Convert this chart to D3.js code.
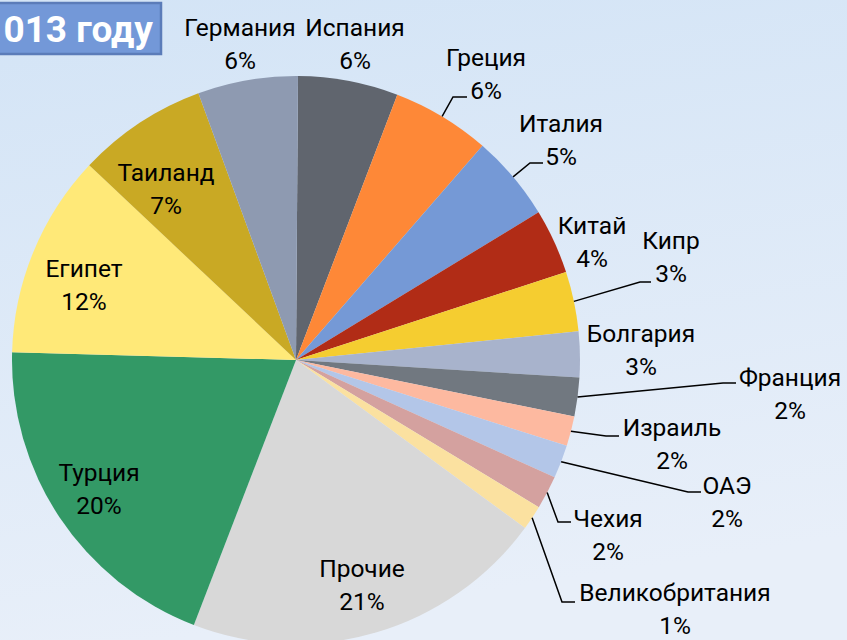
<!DOCTYPE html>
<html>
<head>
<meta charset="utf-8">
<script src="https://cdn.jsdelivr.net/npm/d3@7"></script>
<style>
    body { margin: 0; overflow: hidden; }
    svg { display: block; }
</style>
</head>
<body>
<div id="chart"></div>
<script>
const width = 847
const height = 640
const center_x = 296
const center_y = 360
const radius = 284
const font_family = 'Roboto, "Noto Sans", sans-serif'
const font_size = 24.5
const line_gap = 33

// shares in percent, clockwise from 12 o'clock
const countries = ['Испания', 'Греция', 'Италия', 'Китай', 'Кипр', 'Болгария', 'Франция', 'Израиль',
                   'ОАЭ', 'Чехия', 'Великобритания', 'Прочие', 'Турция', 'Египет', 'Таиланд', 'Германия']
const shares = [5.7, 5.6, 4.9, 3.7, 3.4, 2.6, 2.2, 1.7, 1.9, 1.9, 1.4, 20.8, 19.6, 11.6, 7.4, 5.7]
const colors = ['#60656e', '#fe8837', '#7599d6', '#b12c16', '#f5cd30', '#a8b3cc', '#717880', '#fdb9a0',
                '#b3c6e8', '#d4a19f', '#fbe1a0', '#d8d8d8', '#339966', '#ffe978', '#c9a924', '#8e9ab1']

// where each label block sits (centre x, centre of first line) and optional leader elbow / end
const label_layout = {
    'Германия':       { x: 240, y: 27 },
    'Испания':        { x: 355, y: 27 },
    'Греция':         { x: 486, y: 57,  elbow: [453, 97],  end: [467, 97] },
    'Италия':         { x: 561, y: 123, elbow: [530, 163], end: [543, 163] },
    'Китай':          { x: 592, y: 225 },
    'Кипр':           { x: 671, y: 240, elbow: [640, 282], end: [651, 282] },
    'Болгария':       { x: 641, y: 333 },
    'Франция':        { x: 790, y: 377, elbow: [723, 383], end: [736, 383] },
    'Израиль':        { x: 672, y: 427, elbow: [606, 436], end: [619, 436] },
    'ОАЭ':            { x: 727, y: 485, elbow: [688, 492], end: [701, 492] },
    'Чехия':          { x: 608, y: 518, elbow: [558, 522], end: [571, 522] },
    'Великобритания': { x: 675, y: 592, elbow: [562, 602], end: [575, 602] },
    'Прочие':         { x: 362, y: 568 },
    'Турция':         { x: 99,  y: 472 },
    'Египет':         { x: 84,  y: 268 },
    'Таиланд':        { x: 166, y: 172 }
}

function draw_chart() {
    const svg = d3.select('#chart')
                  .append('svg')
                  .attr('width', width)
                  .attr('height', height)

    // background
    const grad = svg.append('defs')
                    .append('linearGradient')
                    .attr('id', 'bg')
                    .attr('x1', 0).attr('y1', 0)
                    .attr('x2', 0.2).attr('y2', 1)
    grad.append('stop').attr('offset', '0%').attr('stop-color', '#d3e4f6')
    grad.append('stop').attr('offset', '100%').attr('stop-color', '#e8eff9')
    svg.append('rect')
        .attr('width', width)
        .attr('height', height)
        .attr('fill', 'url(#bg)')

    const offset = 0.4 * Math.PI / 180
    const pie = d3.pie()
                  .sort(null)
                  .value(d => d)
                  .startAngle(offset)
                  .endAngle(2 * Math.PI + offset)
    const arcs = pie(shares)
    const total = d3.sum(shares)

    const arc_generator = d3.arc()
                            .innerRadius(0)
                            .outerRadius(radius)
    const edge_arc = d3.arc()
                       .innerRadius(radius)
                       .outerRadius(radius)

    const g = svg.append('g')
                 .attr('transform', `translate(${center_x},${center_y})`)

    g.selectAll('path')
        .data(arcs)
        .enter()
        .append('path')
        .attr('d', arc_generator)
        .attr('fill', (d, i) => colors[i])

    // leader lines
    arcs.forEach((d, i) => {
        const layout = label_layout[countries[i]]
        if (!layout.elbow) return
        const p = edge_arc.centroid(d)
        const start = [p[0] + center_x, p[1] + center_y]
        svg.append('path')
            .attr('d', d3.line()([start, layout.elbow, layout.end]))
            .attr('stroke', 'black')
            .attr('stroke-width', 1.5)
            .attr('fill', 'none')
    })

    // labels
    arcs.forEach((d, i) => {
        const layout = label_layout[countries[i]]
        const text = svg.append('text')
                        .attr('text-anchor', 'middle')
                        .attr('font-family', font_family)
                        .attr('font-size', font_size)
                        .attr('fill', 'black')
        text.append('tspan')
            .attr('x', layout.x)
            .attr('y', layout.y)
            .attr('dy', '0.35em')
            .text(countries[i])
        text.append('tspan')
            .attr('x', layout.x)
            .attr('y', layout.y + line_gap)
            .attr('dy', '0.35em')
            .text(Math.round(d.data / total * 100) + '%')
    })

    // title box, cut at the left edge
    svg.append('rect')
        .attr('x', -10)
        .attr('y', 3)
        .attr('width', 171)
        .attr('height', 51)
        .attr('fill', '#7398d8')
        .attr('stroke', '#5b7cb9')
        .attr('stroke-width', 2.5)
    svg.append('text')
        .attr('x', 153)
        .attr('y', 29)
        .attr('dy', '0.35em')
        .attr('text-anchor', 'end')
        .attr('font-family', font_family)
        .attr('font-size', 37)
        .attr('font-weight', 'bold')
        .attr('fill', 'white')
        .text('013 году')
}

draw_chart()
</script>
</body>
</html>
